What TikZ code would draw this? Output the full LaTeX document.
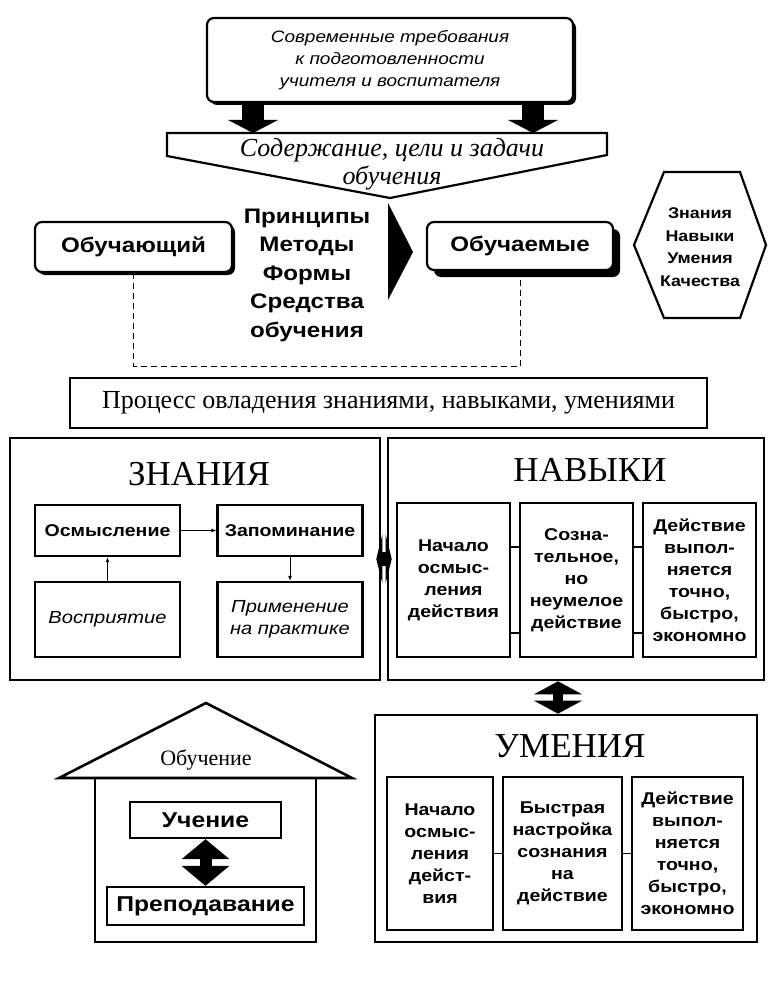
\documentclass[tikz,border=0pt]{standalone}
\usepackage{fontspec}
\setmainfont{Liberation Serif}
\setsansfont{Liberation Sans}[FakeStretch=1.15]
\usepackage{tikz}
\usetikzlibrary{shadows}
\usetikzlibrary{positioning}
\usetikzlibrary{arrows.meta,calc}

\begin{document}
\begin{tikzpicture}[x=1pt, y=-1pt,
  frame/.style={draw, line width=2.6pt, inner sep=0pt},
  cell/.style={draw, line width=2.2pt, inner sep=0pt, align=center, font=\sffamily\bfseries\fontsize{17}{22}\selectfont},
  rbox/.style={draw, line width=2.2pt, rounded corners=7pt, fill=white, inner sep=0pt,
    font=\sffamily\bfseries\fontsize{21}{26}\selectfont,
    drop shadow={shadow xshift=#1, shadow yshift=-#1, opacity=1, fill=black}},
  rbox/.default=3pt,
  title/.style={font=\fontsize{35}{37}\selectfont},
  link/.style={line width=1pt, -{Latex[length=5pt,width=4pt]}},
  tie/.style={line width=1.2pt},
  fat/.style={line width=22pt, -{Triangle[length=13pt,width=50pt,line width=0pt]}},
  dbl/.style={line width=10pt, {Triangle[length=#1,width=48pt,line width=0pt]}-{Triangle[length=#1,width=48pt,line width=0pt]}}
]
\useasboundingbox (0,0) rectangle (768,984);

 % top
 \node[rbox, minimum width=366pt, minimum height=84pt, align=center,
   font=\sffamily\itshape\fontsize{16.5}{22}\selectfont] (req) at (390,60)
   {Современные требования\\к подготовленности\\учителя и воспитателя};

 \draw[line width=2.2pt, line join=miter] (167,133) -- (607,133) -- (607,155) -- (390,198) -- (167,156) -- cycle;
 \node[font=\itshape\fontsize{26}{28}\selectfont, align=center] (goal) at (392,164) {Содержание, цели и задачи\\обучения};

 \coordinate (fl) at (253,133);
 \coordinate (fr) at (533,133);
 \draw[fat] (req.south -| fl) -- (fl);
 \draw[fat] (req.south -| fr) -- (fr);

 % teacher and pupils
 \node[rbox, minimum width=197pt, minimum height=50pt] (teacher) at (133.5,247) {Обучающий};
 \node[rbox=7pt, minimum width=186pt, minimum height=48pt] (pupils) at (520,246) {Обучаемые};
 \node[font=\sffamily\bfseries\fontsize{21}{28.5}\selectfont, align=center] (means) at (307,275)
   {Принципы\\Методы\\Формы\\Средства\\обучения};
 \fill (388,203) -- (413,252) -- (388,300) -- cycle;

 \draw[line width=2.2pt, line join=miter] (634,245) -- (664,172) -- (740,172) -- (766,245) -- (740,318) -- (664,318) -- cycle;
 \node[font=\sffamily\bfseries\fontsize{15.5}{22.5}\selectfont, align=center] (quals) at (700,247)
   {Знания\\Навыки\\Умения\\Качества};

 \draw[line width=1pt, dash pattern=on 6pt off 4pt] (teacher.south) -- ++(0,93) -| (pupils.south);

 \node[frame, minimum width=637pt, minimum height=50pt, font=\fontsize{26}{28}\selectfont] (proc) at (388.5,403)
   {Процесс овладения знаниями, навыками, умениями};

 %level 2
 \node[frame, minimum width=370pt, minimum height=242pt] (know) at (195,559) {};
 \node[frame, minimum width=376pt, minimum height=242pt] (skills) at (576,559) {};
 \node[frame, minimum width=382pt, minimum height=227pt] (umen) at (566,828.5) {};
 \node[title] (knowttl) at (199,474) {ЗНАНИЯ};
 \node[title] (skillsttl) at (590,470) {НАВЫКИ};
 \node[title] (umenttl) at (570,746) {УМЕНИЯ};

 \foreach \name/\x/\txt in {k1/107.5/Осмысление, k2/290/Запоминание}
   \node[cell, minimum width=145pt, minimum height=51pt] (\name) at (\x,530.5) {\txt};
 \foreach \name/\x/\txt in {k3/107.5/Восприятие, k4/290/{Применение\\на практике}}
   \node[cell, minimum width=145pt, minimum height=75pt,
     font=\sffamily\itshape\fontsize{17.5}{22}\selectfont] (\name) at (\x,619.5) {\txt};
 \draw[link] (k1) -- (k2);
 \draw[link] (k3) -- (k1);
 \draw[link] (k2) -- (k4);

 \foreach \name/\x/\txt in {s1/453.5/{Начало\\осмыс-\\ления\\действия},
     s2/576.5/{Созна-\\тельное,\\но\\неумелое\\действие},
     s3/699.5/{Действие\\выпол-\\няется\\точно,\\быстро,\\экономно}}
   \node[cell, minimum width=113pt, minimum height=154pt] (\name) at (\x,580) {\txt};
 \foreach \a/\b in {s1/s2, s2/s3} {
   \draw[tie] ([yshift=33pt]\a.east) -- ([yshift=33pt]\b.west);
   \draw[tie] ([yshift=-53pt]\a.east) -- ([yshift=-53pt]\b.west);
 }

 \foreach \name/\x/\w/\txt in {u1/440/106/{Начало\\осмыс-\\ления\\дейст-\\вия},
     u2/562.5/119/{Быстрая\\настройка\\сознания\\на\\действие},
     u3/687.5/111/{Действие\\выпол-\\няется\\точно,\\быстро,\\экономно}}
   \node[cell, minimum width=\w pt, minimum height=153pt] (\name) at (\x,853.5) {\txt};
 \draw[tie] (u1) -- (u2);
 \draw[tie] (u2) -- (u3);

 % double arrows
 \coordinate (nu) at (558,0);
 \draw[dbl=13pt] (skills.south -| nu) -- (umen.north -| nu);
 \draw[dbl=6pt, line width=14pt] ([xshift=-5pt]know.east) -- ([xshift=5pt]skills.west);

 % house
 \draw[line width=2.6pt, line join=miter] (59,778) -- (206,703) -- (352,778) -- cycle;
 \draw[line width=2.6pt] (95,778) rectangle (316,942);
 \node[font=\fontsize{22}{24}\selectfont] (learnttl) at (206,760) {Обучение};
 \node[frame, line width=2.4pt, minimum width=151pt, minimum height=36pt,
   font=\sffamily\bfseries\fontsize{21.5}{24}\selectfont] (study) at (205.5,820) {Учение};
 \node[frame, line width=2.4pt, minimum width=197pt, minimum height=38pt,
   font=\sffamily\bfseries\fontsize{21.5}{24}\selectfont] (teach) at (205.5,906) {Преподавание};
 \draw[dbl=20pt, line width=12pt] (study) -- (teach);

\end{tikzpicture}
\end{document}
